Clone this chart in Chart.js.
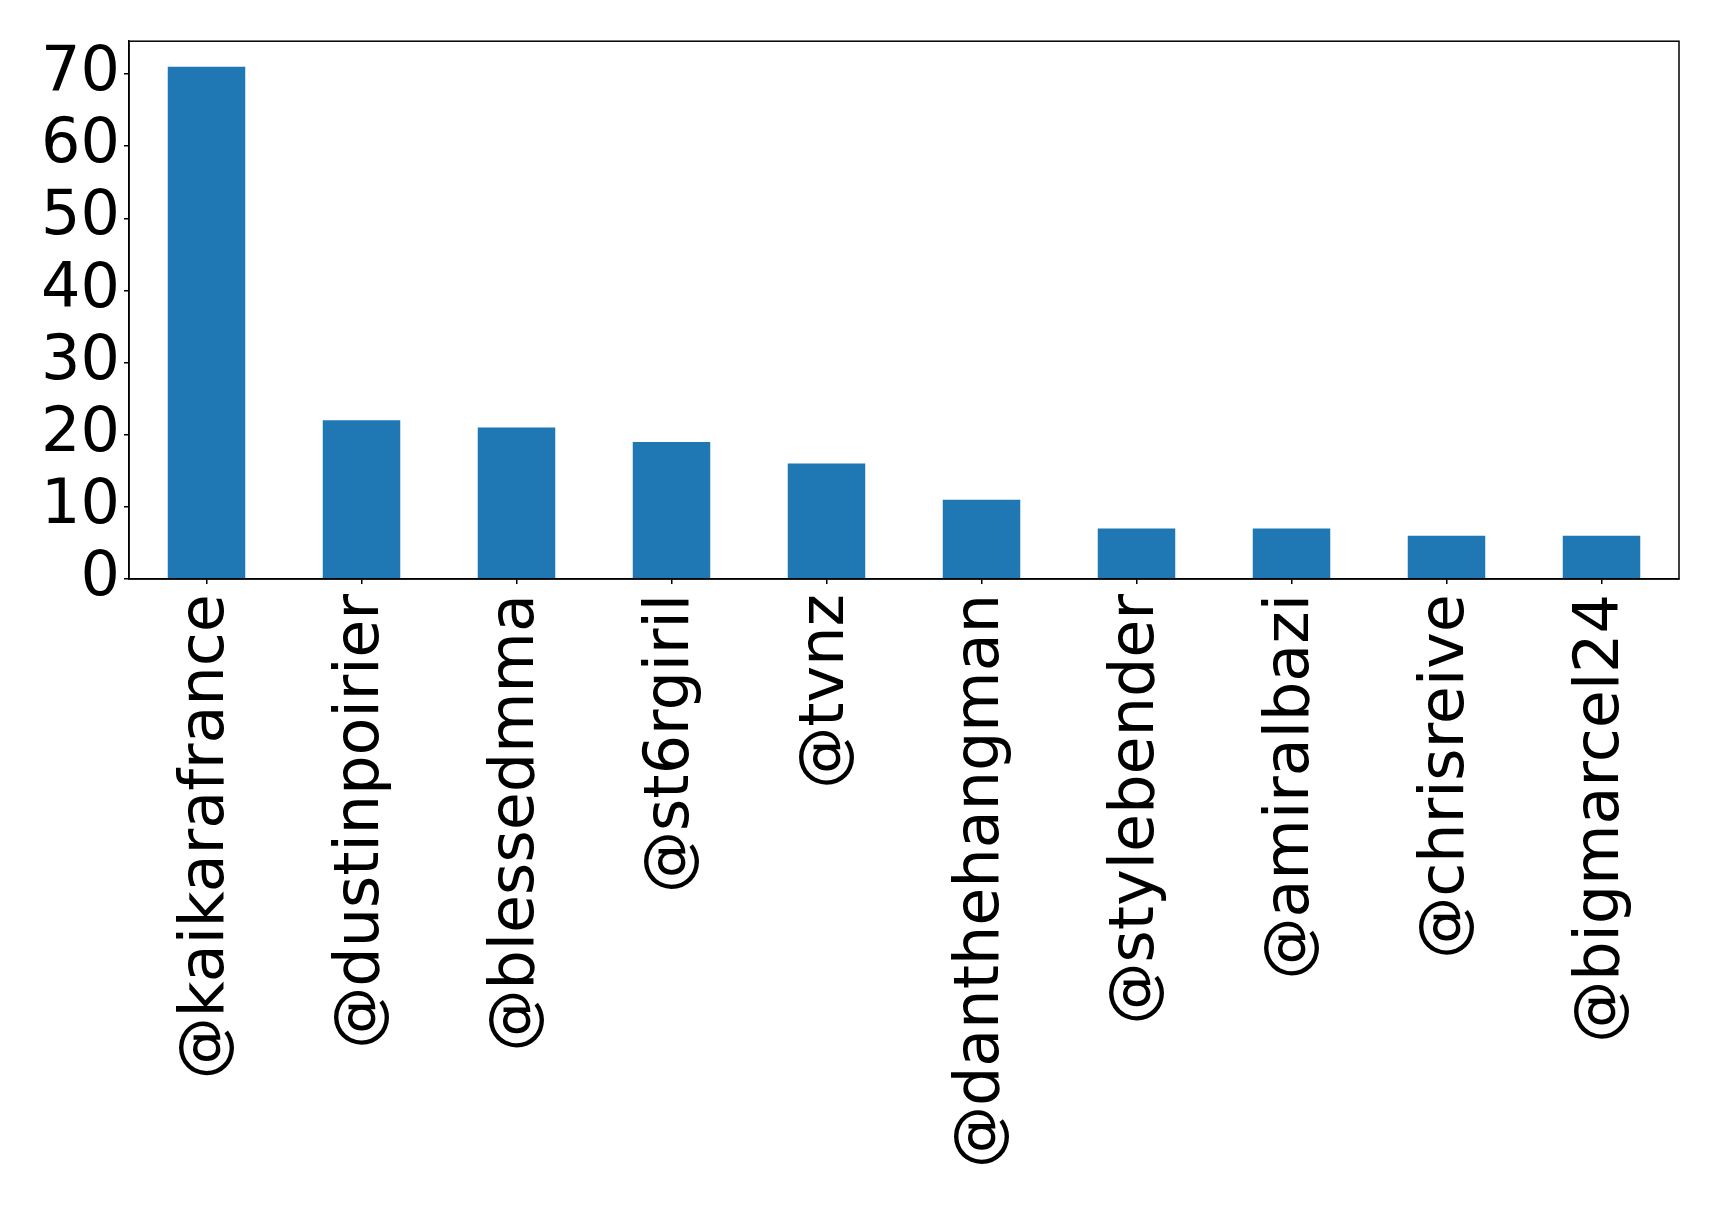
<!doctype html>
<html lang="en">
  <head>
    <meta charset="UTF-8" />
    <title>Top mentions</title>
    <script src="https://cdn.jsdelivr.net/npm/chart.js"></script>
    <style>
      body {
        margin: 0;
        background: #fff;
      }
      .wrap {
        width: 1719px;
        height: 1206px;
      }
    </style>
  </head>
  <body>
    <div class="wrap"><canvas id="chart"></canvas></div>
    <script>
      const handles = [
        '@kaikarafrance',
        '@dustinpoirier',
        '@blessedmma',
        '@st6rgiril',
        '@tvnz',
        '@danthehangman',
        '@stylebender',
        '@amiralbazi',
        '@chrisreive',
        '@bigmarcel24',
      ];
      const counts = [71, 22, 21, 19, 16, 11, 7, 7, 6, 6];
      const yTicks = [0, 10, 20, 30, 40, 50, 60, 70];

      // box around the plot area, like matplotlib spines
      const frame = {
        id: 'frame',
        afterDraw(chart) {
          const { ctx, chartArea: a } = chart;
          ctx.save();
          ctx.strokeStyle = '#000';
          ctx.lineWidth = 1.5;
          ctx.strokeRect(a.left, a.top, a.right - a.left, a.bottom - a.top);
          ctx.restore();
        },
      };

      const font = { family: "'DejaVu Sans', sans-serif", size: 62 };

      new Chart(document.getElementById('chart'), {
        type: 'bar',
        data: {
          labels: handles,
          datasets: [
            {
              data: counts,
              backgroundColor: '#1f77b4',
              barPercentage: 0.5,
              categoryPercentage: 1,
            },
          ],
        },
        options: {
          responsive: true,
          maintainAspectRatio: false,
          animation: false,
          layout: { padding: { top: 40, right: 40, left: 0, bottom: 0 } },
          plugins: { legend: { display: false }, tooltip: { enabled: false } },
          scales: {
            x: {
              offset: true,
              grid: {
                offset: false,
                drawOnChartArea: false,
                tickLength: 5,
                color: '#000',
                lineWidth: 1.5,
              },
              border: { color: '#000', width: 1.5 },
              ticks: {
                color: '#000',
                font: font,
                minRotation: 90,
                maxRotation: 90,
                autoSkip: false,
                padding: 10,
              },
              afterFit(s) {
                s.height = 627;
              },
            },
            y: {
              min: 0,
              max: 74.55,
              afterBuildTicks(s) {
                s.ticks = yTicks.map((v) => ({ value: v }));
              },
              grid: {
                drawOnChartArea: false,
                tickLength: 5,
                color: '#000',
                lineWidth: 1.5,
              },
              border: { color: '#000', width: 1.5 },
              ticks: { color: '#000', font: font, padding: 4, autoSkip: false },
              afterFit(s) {
                s.width = 129;
              },
            },
          },
        },
        plugins: [frame],
      });
    </script>
  </body>
</html>
